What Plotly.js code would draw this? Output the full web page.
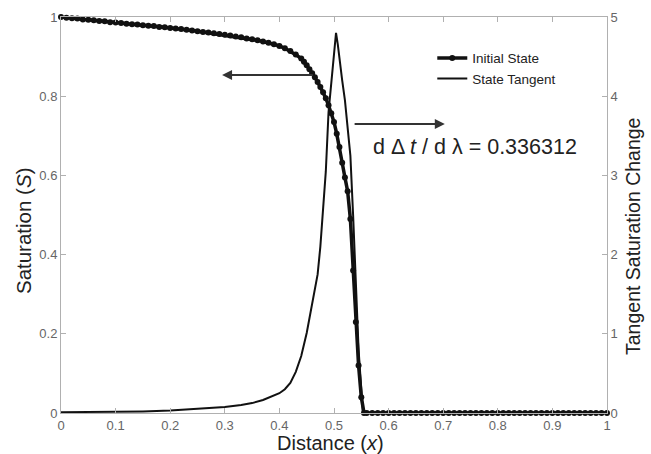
<!DOCTYPE html>
<html>
<head>
<meta charset="utf-8">
<script src="https://cdn.plot.ly/plotly-3.0.1.min.js"></script>
<style>html,body{margin:0;padding:0;background:#fff;}#chart{width:651px;height:454px;}</style>
</head>
<body>
<div id="chart"></div>
<script>
// Initial State (saturation S), left axis
const stateX = [0.00,0.01,0.02,0.03,0.04,0.05,0.06,0.07,0.08,0.09,
  0.10,0.11,0.12,0.13,0.14,0.15,0.16,0.17,0.18,0.19,
  0.20,0.21,0.22,0.23,0.24,0.25,0.26,0.27,0.28,0.29,
  0.30,0.31,0.32,0.33,0.34,0.35,0.36,0.37,0.38,0.39,
  0.40,0.41,0.42,0.43,0.44,0.445,0.45,0.455,0.46,0.465,
  0.47,0.475,0.48,0.485,0.49,0.495,0.50,0.505,0.51,0.515,
  0.52,0.525,0.53,0.535,0.54,0.545,0.55,0.555,
  0.56,0.57,0.58,0.59,0.60,0.61,0.62,0.63,0.64,0.65,0.66,0.67,0.68,0.69,
  0.70,0.71,0.72,0.73,0.74,0.75,0.76,0.77,0.78,0.79,
  0.80,0.81,0.82,0.83,0.84,0.85,0.86,0.87,0.88,0.89,
  0.90,0.91,0.92,0.93,0.94,0.95,0.96,0.97,0.98,0.99,1.00];
const stateS = [1.000,0.998,0.997,0.996,0.994,0.993,0.992,0.990,0.989,0.987,
  0.986,0.985,0.983,0.982,0.981,0.979,0.978,0.977,0.975,0.974,
  0.972,0.971,0.970,0.968,0.966,0.964,0.962,0.961,0.959,0.957,
  0.955,0.953,0.951,0.949,0.946,0.944,0.941,0.938,0.935,0.931,
  0.927,0.921,0.914,0.905,0.895,0.887,0.878,0.868,0.858,0.848,
  0.836,0.823,0.810,0.795,0.777,0.757,0.735,0.705,0.672,0.632,
  0.595,0.560,0.490,0.360,0.230,0.120,0.040,0.000,
  0,0,0,0,0,0,0,0,0,0,0,0,0,0,
  0,0,0,0,0,0,0,0,0,0,
  0,0,0,0,0,0,0,0,0,0,
  0,0,0,0,0,0,0,0,0,0,0];

// State Tangent, right axis
const tanX = [0.00,0.05,0.10,0.15,0.20,0.25,0.30,0.33,0.35,0.37,0.39,
  0.40,0.41,0.42,0.43,0.44,0.45,0.455,0.46,0.465,0.47,0.475,0.48,0.485,
  0.49,0.495,0.50,0.5037,0.507,0.51,0.515,0.52,0.525,0.53,0.535,0.54,
  0.545,0.55,0.553,0.56,0.60,0.70,0.80,0.90,1.00];
const tanV = [0.010,0.012,0.015,0.020,0.030,0.050,0.076,0.100,0.125,0.164,0.220,
  0.250,0.300,0.380,0.520,0.720,1.010,1.200,1.380,1.550,1.750,2.100,2.520,3.050,
  3.800,4.200,4.550,4.800,4.650,4.450,4.200,3.950,3.600,3.250,2.500,1.700,
  0.800,0.300,0.000,0,0,0,0,0,0];

const xTicks = [0,0.1,0.2,0.3,0.4,0.5,0.6,0.7,0.8,0.9,1];
const yTicks = [0,0.2,0.4,0.6,0.8,1];
const y2Ticks = [0,1,2,3,4,5];

const FONT = 'Liberation Sans, Arial, sans-serif';
const AX = '#b0b0b0';
const TICKC = '#666';
const TITLEC = '#222';

const traces = [
  {x: stateX, y: stateS, name: 'Initial State', type: 'scatter', mode: 'lines+markers', cliponaxis: false,
   line: {color: '#111', width: 3.5}, marker: {color: '#111', size: 6}},
  {x: tanX, y: tanV, name: 'State Tangent', type: 'scatter', mode: 'lines', yaxis: 'y2', cliponaxis: false,
   line: {color: '#111', width: 2}}
];

const layout = {
  width: 651, height: 454,
  margin: {l: 61, r: 44, t: 17, b: 41},
  paper_bgcolor: '#fff', plot_bgcolor: '#fff',
  font: {family: FONT, color: TITLEC},
  showlegend: true,
  legend: {x: 0.68, y: 0.935, xanchor: 'left', yanchor: 'top', bgcolor: 'rgba(0,0,0,0)',
           font: {family: FONT, size: 13.5, color: TITLEC}, tracegroupgap: 0, itemwidth: 30},
  xaxis: {range: [0, 1], tickvals: xTicks, ticktext: xTicks.map(String), ticks: 'inside', ticklen: 5,
          tickcolor: AX, showline: true, linecolor: AX, linewidth: 1, mirror: 'ticks',
          showgrid: false, zeroline: false, tickfont: {family: FONT, size: 13, color: TICKC}},
  yaxis: {range: [0, 1], tickvals: yTicks, ticktext: yTicks.map(String), ticks: 'inside', ticklen: 5,
          tickcolor: AX, showline: true, linecolor: AX, linewidth: 1, mirror: true,
          showgrid: false, zeroline: false, tickfont: {family: FONT, size: 13, color: TICKC}},
  yaxis2: {range: [0, 5], overlaying: 'y', side: 'right', tickvals: y2Ticks, ticktext: y2Ticks.map(String),
           ticks: 'inside', ticklen: 5, tickcolor: AX, showline: true, linecolor: AX,
           showgrid: false, zeroline: false, tickfont: {family: FONT, size: 13, color: TICKC}},
  annotations: [
    {x: 0.4945, y: -0.0745, xref: 'paper', yref: 'paper', showarrow: false, xanchor: 'center', yanchor: 'middle',
     text: 'Distance (<i>x</i>)', font: {family: FONT, size: 20, color: TITLEC}},
    {x: -0.0696, y: 0.462, xref: 'paper', yref: 'paper', showarrow: false, textangle: -90,
     xanchor: 'center', yanchor: 'middle',
     text: 'Saturation (<i>S</i>)', font: {family: FONT, size: 20.5, color: TITLEC}},
    {x: 1.0476, y: 0.447, xref: 'paper', yref: 'paper', showarrow: false, textangle: -90,
     xanchor: 'center', yanchor: 'middle',
     text: 'Tangent Saturation Change', font: {family: FONT, size: 19.5, color: TITLEC}},
    {x: 0.295, y: 0.8535, ax: 0.464, ay: 0.8535, xref: 'x', yref: 'y', axref: 'x', ayref: 'y',
     text: '', showarrow: true, arrowhead: 2, arrowsize: 1, arrowwidth: 2, arrowcolor: '#333'},
    {x: 0.703, y: 0.73, ax: 0.535, ay: 0.73, xref: 'x', yref: 'y', axref: 'x', ayref: 'y',
     text: '', showarrow: true, arrowhead: 2, arrowsize: 1, arrowwidth: 2, arrowcolor: '#333'},
    {x: 0.758, y: 0.672, xref: 'x', yref: 'y', showarrow: false,
     text: 'd Δ <i>t</i> / d λ = 0.336312', font: {family: FONT, size: 21.5, color: TITLEC}}
  ]
};

Plotly.newPlot('chart', traces, layout, {displayModeBar: false, staticPlot: true});
</script>
</body>
</html>
